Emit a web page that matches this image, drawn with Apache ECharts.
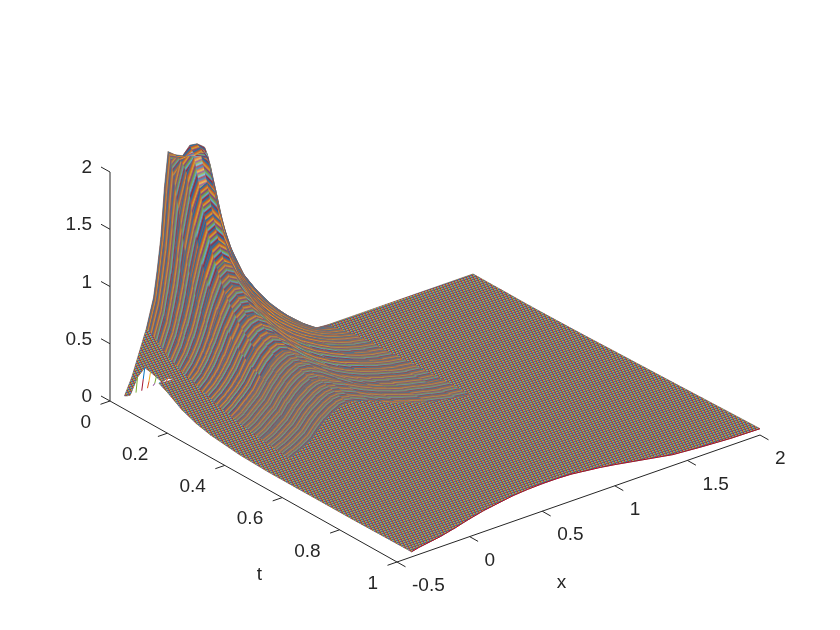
<!DOCTYPE html>
<html><head><meta charset="utf-8"><style>html,body{margin:0;background:#fff}#c{width:840px;height:630px}</style>
<script src="https://cdn.jsdelivr.net/npm/echarts@6/dist/echarts.min.js"></script></head><body><div id="c"></div>
<script>
const xGrid=[-.4,-.35,-.3,-.25,-.2,-.175,-.15,-.125,-.1,-.05,0,.05,.1,.15,.2,.3,.4,.5,.6,.7,.8,.9,1,1.2,1.4,1.6,1.8,2];
const tGrid=[0,.01,.02,.04,.06,.08,.1,.12,.15,.2,.25,.3,.4,.5,.6,.7,.8,.9,1];
const u00=[0,.14,.33,.52,.77,1,1.27,1.7,2,1.95,1.92,1.99,1.98,1.93,1.53,1.07,.74,.54,.37,.23,.12,.01,0,0,0,0,0,0];
const u01=[.015,.15,.3,.52,.76,.98,1.24,1.62,1.95,1.94,1.93,1.95,1.96,1.88,1.48,1.03,.72,.52,.36,.23,.12,.03,.01,0,0,0,0,0];
const u02=[.035,.17,.23,.5,.73,.93,1.16,1.48,1.8,1.93,1.945,1.925,1.94,1.8,1.42,.98,.69,.5,.35,.22,.12,.04,.01,0,0,0,0,0];
const u04=[.085,.18,.22,.46,.66,.82,1,1.25,1.5,1.85,1.97,1.95,1.88,1.6,1.27,.88,.63,.46,.32,.21,.12,.05,.02,0,0,0,0,0];
const u06=[.13,.19,.205,.42,.58,.71,.85,1.02,1.2,1.5,1.72,1.75,1.65,1.4,1.13,.8,.58,.42,.3,.2,.12,.06,.03,0,0,0,0,0];
const u08=[.18,.2,.19,.38,.52,.62,.72,.85,1,1.27,1.47,1.5,1.42,1.22,1.02,.73,.53,.39,.28,.19,.12,.07,.04,.01,0,0,0,0];
const u10=[.23,.24,.25,.35,.46,.54,.62,.73,.85,1.08,1.26,1.3,1.23,1.08,.92,.67,.49,.36,.26,.18,.12,.08,.05,.01,0,0,0,0];
const u12=[.28,.27,.27,.33,.42,.48,.55,.64,.74,.94,1.1,1.14,1.1,.97,.84,.62,.46,.34,.25,.18,.12,.08,.05,.02,.005,0,0,0];
const u15=[.24,.25,.26,.3,.37,.42,.48,.55,.62,.79,.92,.97,.94,.85,.75,.56,.42,.32,.24,.17,.12,.08,.06,.02,.01,0,0,0];
const u20=[.16,.18,.21,.25,.3,.34,.38,.43,.48,.61,.72,.77,.78,.73,.66,.51,.39,.3,.23,.17,.12,.085,.06,.03,.01,.005,0,0];
const u25=[.11,.13,.16,.2,.25,.28,.31,.35,.39,.5,.59,.65,.67,.64,.59,.46,.36,.28,.22,.17,.125,.09,.07,.035,.015,.008,.004,.002];
const u30=[.08,.1,.13,.17,.21,.24,.27,.3,.33,.43,.51,.56,.59,.57,.53,.43,.34,.27,.21,.165,.125,.095,.075,.04,.02,.01,.006,.004];
const u40=[.05,.07,.09,.12,.15,.175,.2,.225,.25,.33,.39,.44,.47,.47,.45,.38,.31,.25,.2,.16,.13,.1,.085,.05,.03,.018,.012,.01];
const u50=[.04,.055,.07,.09,.12,.135,.15,.17,.19,.26,.32,.36,.39,.4,.39,.35,.29,.24,.2,.16,.135,.11,.09,.06,.04,.027,.02,.018];
const u60=[.04,.05,.06,.08,.1,.11,.125,.14,.155,.21,.26,.3,.33,.34,.34,.32,.28,.24,.2,.165,.14,.12,.1,.07,.05,.035,.028,.025];
const u70=[.04,.05,.06,.07,.09,.1,.11,.12,.135,.18,.22,.26,.29,.3,.31,.3,.27,.24,.21,.175,.15,.13,.11,.08,.06,.045,.035,.032];
const u80=[.04,.05,.06,.07,.085,.09,.1,.11,.12,.155,.19,.23,.26,.27,.28,.28,.26,.24,.21,.185,.16,.14,.12,.09,.07,.055,.042,.04];
const u90=[.043,.055,.065,.075,.085,.09,.1,.105,.115,.14,.17,.2,.23,.25,.26,.265,.255,.24,.22,.195,.175,.155,.135,.105,.08,.065,.055,.048];
const u100=[.045,.06,.07,.08,.09,.098,.105,.113,.12,.138,.155,.17,.185,.195,.205,.225,.235,.24,.24,.235,.22,.205,.185,.14,.095,.075,.06,.055];
const xTicks=[-.5,0,.5,1,1.5,2], xTickLabels=['-0.5','0','0.5','1','1.5','2'];
const tTicks=[0,.2,.4,.6,.8,1], tTickLabels=['0','0.2','0.4','0.6','0.8','1'];
const zTicks=[0,.5,1,1.5,2], zTickLabels=['0','0.5','1','1.5','2'];
const lineColors=['#0072BD','#D95319','#EDB120','#7E2F8E','#77AC30','#4DBEEE','#A2142F'];

const U=[u00,u01,u02,u04,u06,u08,u10,u12,u15,u20,u25,u30,u40,u50,u60,u70,u80,u90,u100];
const ink='#262626', mean=[134,115,103], meanCss='rgb(134,115,103)', font='"Liberation Sans",Arial,sans-serif';
function proj(x,t,z){const a=x+.5;return [110+145.2*a+287*t,401-50.8*a+161*t-114.5*z];}
function mixed(c,s,base){const n=parseInt(c.slice(1),16),r=[n>>16&255,n>>8&255,n&255],b=base||mean;
  return 'rgb('+r.map((v,k)=>Math.round(b[k]+(v-b[k])*s)).join(',')+')';}
function makeStripes(s,base){const cv=document.createElement('canvas');cv.width=2;cv.height=7;const g=cv.getContext('2d');
  lineColors.forEach((c,k)=>{g.fillStyle=mixed(c,s,base);g.fillRect(0,k,2,1);});return cv;}
function makeDither(s){const cv=document.createElement('canvas');cv.width=7;cv.height=7;const g=cv.getContext('2d');
  for(let a=0;a<7;a++)for(let b=0;b<7;b++){g.fillStyle=mixed(lineColors[(a*3+b*2)%7],s);g.fillRect(a,b,1,1);}return cv;}
const tileDots=makeDither(.62), tileFaint=makeStripes(.38), tileSoft=makeStripes(.55), tileStrong=makeStripes(.78), tilePale=makeStripes(.7,[235,225,215]);

const cells=[];
for(let j=0;j<tGrid.length-1;j++)for(let i=0;i<xGrid.length-1;i++)cells.push([i,j]);
const isFan=(i,j)=>i<2&&j>=2&&j<7;
const isPale=(i,j)=>i===10&&j>=1&&j<=3;
function corners(api,i,j){
  return [[i,j],[i+1,j],[i+1,j+1],[i,j+1]].map(([a,b])=>api.coord(proj(xGrid[a],tGrid[b],U[b][a])));
}
function baseItem(params,api){
  const [i,j]=cells[params.dataIndex];
  if(isFan(i,j)||isPale(i,j))return null;
  return {type:'polygon',shape:{points:corners(api,i,j)},style:{fill:meanCss,stroke:meanCss,lineWidth:.8}};
}
function texItem(params,api){
  const [i,j]=cells[params.dataIndex];
  const p=corners(api,i,j);
  if(isFan(i,j)){
    return {type:'polyline',shape:{points:[p[3],p[1]]},style:{fill:null,stroke:lineColors[(i*3+j*2)%7],lineWidth:1}};
  }
  const dx=(p[1][0]+p[2][0]-p[0][0]-p[3][0])/2,dy=(p[1][1]+p[2][1]-p[0][1]-p[3][1])/2;
  const len=Math.hypot(dx,dy)||1,nx=-dy/len,ny=dx/len;
  const h=Math.abs((p[3][0]-p[0][0])*nx+(p[3][1]-p[0][1])*ny+(p[2][0]-p[1][0])*nx+(p[2][1]-p[1][1])*ny)/2;
  const count=(tGrid[j+1]-tGrid[j])/.005;
  const w=Math.min(2.2,h/count);
  const tx=xGrid[i],tt=tGrid[j];
  let tile=null,k=.6;
  if(isPale(i,j)){tile=tilePale;k=.75;}
  else if(tx>=-.05&&tx<.5&&tt<.12){tile=tileStrong;k=.75;}
  else if(tx>=-.05&&tx<.7&&tt<.3){tile=tileSoft;k=.65;}
  else if(tx>-.3&&tx<-.05&&tt<.3){tile=tileSoft;k=.55;}
  else if(tx>-.3&&tx<1&&tt<.5){tile=tileFaint;k=.55;}
  if(!tile) return {type:'polygon',shape:{points:p},style:{fill:{image:tileDots,repeat:'repeat'}}};
  return {type:'polygon',shape:{points:p},style:{fill:{image:tile,repeat:'repeat',x:p[0][0],y:p[0][1],rotation:Math.atan2(dy,dx),scaleX:1,scaleY:Math.max(.9,w*k)}}};
}
function axisItem(params,api){
  const kids=[];
  const seg=(a,b)=>kids.push({type:'line',shape:{x1:a[0],y1:a[1],x2:b[0],y2:b[1]},style:{stroke:ink,lineWidth:1}});
  const txt=(s,p,al)=>kids.push({type:'text',style:{text:s,x:p[0],y:p[1],align:al,verticalAlign:'middle',font:'19px '+font,fill:ink}});
  const c=(q)=>api.coord(q);
  seg(c(proj(-.5,0,0)),c(proj(-.5,1,0)));
  seg(c(proj(-.5,1,0)),c(proj(2,1,0)));
  seg(c(proj(-.5,0,0)),c(proj(-.5,0,2)));
  xTicks.forEach((v,k)=>{const a=proj(v,1,0);seg(c(a),c([a[0]+8.5,a[1]+4.8]));txt(xTickLabels[k],c([a[0]+15,a[1]+24]),'left');});
  tTicks.forEach((v,k)=>{const a=proj(-.5,v,0);seg(c(a),c([a[0]-9.5,a[1]+3.3]));txt(tTickLabels[k],c([a[0]-19,a[1]+21.5]),'right');});
  zTicks.forEach((v,k)=>{const a=proj(-.5,0,v);seg(c(a),c([a[0]-9,a[1]-5]));txt(zTickLabels[k],c([a[0]-18,a[1]-4]),'right');});
  const tm=proj(-.5,.5,0),xm=proj(.75,1,0);
  txt('t',c([tm[0]+6,tm[1]+93]),'center');
  txt('x',c([xm[0]-17,xm[1]+84]),'center');
  return {type:'group',children:kids};
}
const front=xGrid.map((x,i)=>proj(x,1,u100[i]));
const chart=echarts.init(document.getElementById('c'),null,{renderer:'canvas'});
chart.setOption({
  animation:false,backgroundColor:'#fff',
  grid:{left:0,right:0,top:0,bottom:0},
  xAxis:{type:'value',min:0,max:840,show:false},
  yAxis:{type:'value',min:0,max:630,inverse:true,show:false},
  series:[
    {type:'custom',name:'axes',data:[[0,0]],renderItem:axisItem,silent:true,clip:false,z:1},
    {type:'custom',name:'surface base',data:cells,renderItem:baseItem,silent:true,progressive:0,clip:false,z:2},
    {type:'custom',name:'surface lines',data:cells,renderItem:texItem,silent:true,progressive:0,clip:false,z:3},
    {type:'line',name:'t=1',data:front,showSymbol:false,silent:true,lineStyle:{color:'#A2142F',width:1},z:4}
  ]
});
</script></body></html>
